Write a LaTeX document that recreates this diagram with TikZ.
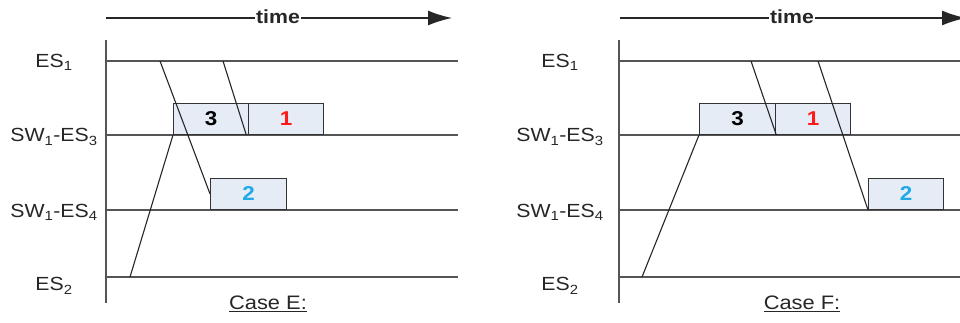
\documentclass[tikz,border=0pt]{standalone}
\usepackage{fontspec}
\setmainfont{Liberation Sans}[FakeStretch=1.12]
\usetikzlibrary{arrows.meta}
\definecolor{boxfill}{HTML}{E6ECF6}
\definecolor{lanegray}{HTML}{555555}
\definecolor{msgred}{HTML}{FF1A1A}
\definecolor{msgblue}{HTML}{20A8E8}

\begin{document}
\begin{tikzpicture}[x=1pt,y=-1pt,
  lane/.style={draw=lanegray,line width=1.9pt},
  axisline/.style={draw=lanegray,line width=2.4pt},
  hop/.style={draw=black!85,line width=1.1pt},
  timearrow/.style={draw=black!85,line width=1.5pt,-{Latex[length=24pt,width=15pt]}},
  frame/.style={draw=black!80,line width=1.3pt,fill=boxfill,minimum height=31pt,
    inner sep=0pt,anchor=south west,font=\fontsize{20}{22}\selectfont\bfseries},
  lanelabel/.style={font=\fontsize{19}{21}\selectfont,text=black!85},
  timelabel/.style={fill=white,inner sep=1.2pt,font=\fontsize{19}{21}\selectfont\bfseries,text=black!85},
  caselabel/.style={font=\fontsize{19.5}{22}\selectfont,text=black!85}]
\useasboundingbox (0,0) rectangle (960,323);
\clip (0,0) rectangle (960,323);

% ---------------- Case E ----------------
\coordinate (Etop) at (106,40);
\coordinate (Ebot) at (106,303);
\draw[axisline] (Etop) -- (Ebot);
\coordinate (Etstart) at (106,18);
\coordinate (Etend) at (452,18);
\draw[timearrow] (Etstart) -- (Etend);
\node[timelabel] (Etime) at (278,17) {time};

\foreach \y/\n in {61/a,135/b,210/c,277/d}{
  \coordinate (El\n) at (106,\y);
  \coordinate (Er\n) at (458,\y);
  \draw[lane] (El\n) -- (Er\n);
}
\node[lanelabel] (Ees1) at (54,62) {ES\textsubscript{1}};
\node[lanelabel] (Esw3) at (54,137) {SW\textsubscript{1}-ES\textsubscript{3}};
\node[lanelabel] (Esw4) at (54,212) {SW\textsubscript{1}-ES\textsubscript{4}};
\node[lanelabel] (Ees2) at (54,286) {ES\textsubscript{2}};

\node[frame,minimum width=75pt] (E3) at (173,135) {3};
\node[frame,minimum width=75pt,text=msgred] (E1) at (248,135) {1};
\node[frame,minimum width=76pt,text=msgblue] (E2) at (210,210) {2};

\coordinate (Ea) at (160,61);
\coordinate (Eb) at (223,61);
\coordinate (Ec) at (130,277);
\draw[hop] (Ea) -- (E2.west);
\draw[hop] (Eb) -- ([xshift=-3pt]E3.south east);
\draw[hop] (Ec) -- (E3.south west);

\node[caselabel] (Ecase) at (268,304) {\underline{Case E:}};

% ---------------- Case F ----------------
\coordinate (Ftop) at (619,40);
\coordinate (Fbot) at (619,303);
\draw[axisline] (Ftop) -- (Fbot);
\coordinate (Ftstart) at (620,18);
\coordinate (Ftend) at (966,18);
\draw[timearrow] (Ftstart) -- (Ftend);
\node[timelabel] (Ftime) at (792,17) {time};

\foreach \y/\n in {61/a,135/b,210/c,277/d}{
  \coordinate (Fl\n) at (619,\y);
  \coordinate (Fr\n) at (972,\y);
  \draw[lane] (Fl\n) -- (Fr\n);
}
\node[lanelabel] (Fes1) at (560,62) {ES\textsubscript{1}};
\node[lanelabel] (Fsw3) at (560,137) {SW\textsubscript{1}-ES\textsubscript{3}};
\node[lanelabel] (Fsw4) at (560,212) {SW\textsubscript{1}-ES\textsubscript{4}};
\node[lanelabel] (Fes2) at (560,286) {ES\textsubscript{2}};

\node[frame,minimum width=76pt] (F3) at (699,135) {3};
\node[frame,minimum width=75pt,text=msgred] (F1) at (775,135) {1};
\node[frame,minimum width=75pt,text=msgblue] (F2) at (868,210) {2};

\coordinate (Fa) at (751,61);
\coordinate (Fb) at (818,61);
\coordinate (Fc) at (642,277);
\draw[hop] (Fa) -- (F3.south east);
\draw[hop] (Fb) -- (F2.south west);
\draw[hop] (Fc) -- (F3.south west);

\node[caselabel] (Fcase) at (802,304) {\underline{Case F:}};
\end{tikzpicture}
\end{document}
